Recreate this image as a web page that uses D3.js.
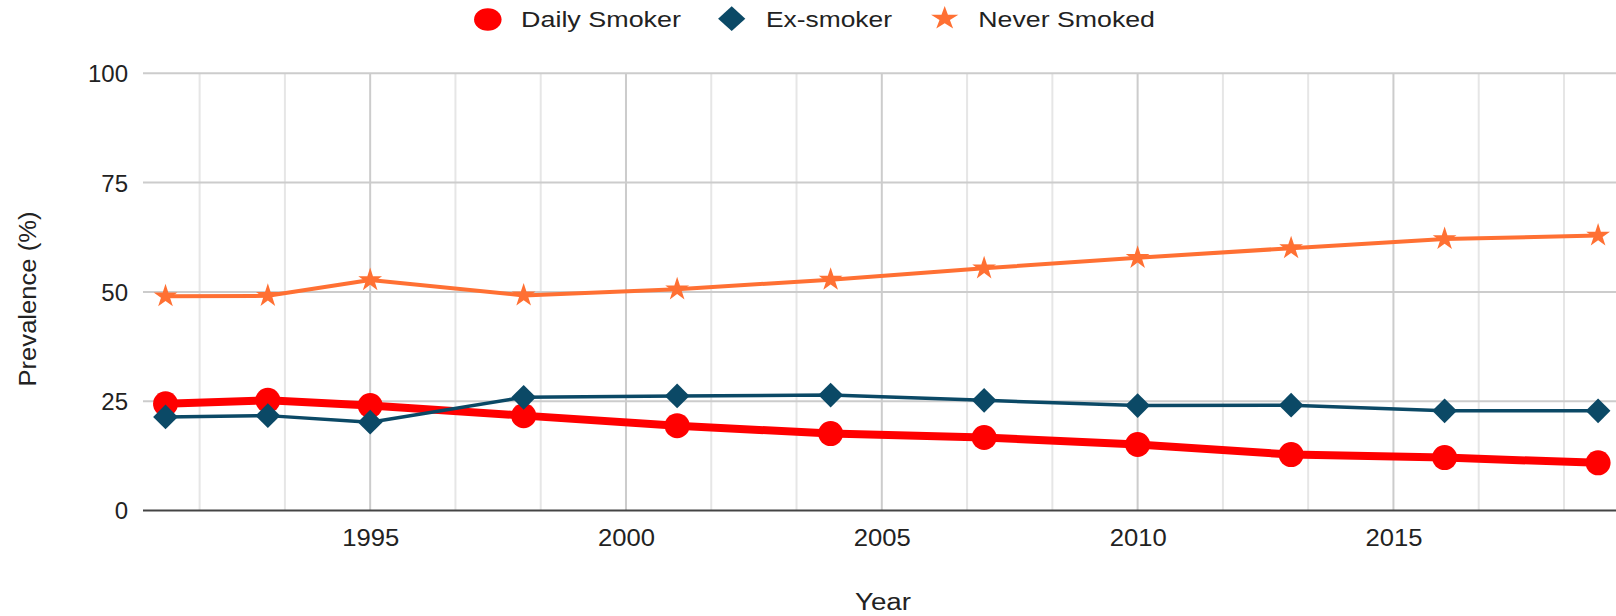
<!DOCTYPE html>
<html>
<head>
<meta charset="utf-8">
<script src="https://cdn.jsdelivr.net/npm/d3@7/dist/d3.min.js"></script>
<style>
  html, body { margin: 0; padding: 0; background: #ffffff; }
  svg { display: block; font-family: "Liberation Sans", Arial, sans-serif; }
</style>
</head>
<body>
<svg id="chart" width="1616" height="616"></svg>
<script>
// Survey years and prevalence (%) by smoking status
const years = [1991, 1993, 1995, 1998, 2001, 2004, 2007, 2010, 2013, 2016, 2019];
const dailySmoker = [24.4, 25.2, 24.0, 21.7, 19.4, 17.6, 16.7, 15.1, 12.8, 12.1, 10.9];
const exSmoker = [21.4, 21.7, 20.2, 25.9, 26.2, 26.4, 25.2, 24.0, 24.1, 22.8, 22.8];
const neverSmoked = [49.0, 49.1, 52.7, 49.2, 50.6, 52.8, 55.4, 57.8, 60.0, 62.1, 62.9];

const seriesNames = ["Daily Smoker", "Ex-smoker", "Never Smoked"];
const xTickValues = [1995, 2000, 2005, 2010, 2015];
const yTickValues = [0, 25, 50, 75, 100];

const svg = d3.select("#chart");
const plot = { left: 143, right: 1616, top: 73.3, bottom: 510.5 };

const x = d3.scaleLinear().domain([1990.56, 2019.35]).range([plot.left, plot.right]);
const y = d3.scaleLinear().domain([0, 100]).range([plot.bottom, plot.top]);

// minor vertical gridlines every 5/3 year between majors
const minorX = d3.range(1990, 2021, 5 / 3).filter(v => x(v) >= plot.left && x(v) <= plot.right && Math.abs(v % 5) > 0.01 && Math.abs(v % 5 - 5) > 0.01);
const majorX = d3.range(1990, 2021, 5).filter(v => x(v) >= plot.left && x(v) <= plot.right);

const grid = svg.append("g");
grid.selectAll("line.minor").data(minorX).join("line")
  .attr("class", "minor")
  .attr("x1", d => x(d)).attr("x2", d => x(d))
  .attr("y1", plot.top).attr("y2", plot.bottom)
  .attr("stroke", "#e6e6e6").attr("stroke-width", 2);
grid.selectAll("line.majorx").data(majorX).join("line")
  .attr("class", "majorx")
  .attr("x1", d => x(d)).attr("x2", d => x(d))
  .attr("y1", plot.top).attr("y2", plot.bottom)
  .attr("stroke", "#cccccc").attr("stroke-width", 2);
grid.selectAll("line.majory").data(yTickValues.filter(v => v > 0)).join("line")
  .attr("class", "majory")
  .attr("x1", plot.left).attr("x2", plot.right)
  .attr("y1", d => y(d)).attr("y2", d => y(d))
  .attr("stroke", "#cccccc").attr("stroke-width", 2);

// baseline at zero
svg.append("line")
  .attr("x1", plot.left).attr("x2", plot.right)
  .attr("y1", y(0)).attr("y2", y(0))
  .attr("stroke", "#444444").attr("stroke-width", 2.2);

// axes
const xAxis = svg.append("g")
  .attr("transform", `translate(0,${plot.bottom})`)
  .call(d3.axisBottom(x).tickValues(xTickValues).tickFormat(d3.format("d")).tickSize(0));
xAxis.select(".domain").remove();
xAxis.selectAll("text")
  .attr("y", 35.2).attr("dy", 0)
  .attr("font-size", 24).attr("fill", "#222222")
  .attr("textLength", 57).attr("lengthAdjust", "spacingAndGlyphs")
  .attr("font-family", "Liberation Sans, Arial, sans-serif");

const yAxis = svg.append("g")
  .attr("transform", `translate(${plot.left},0)`)
  .call(d3.axisLeft(y).tickValues(yTickValues).tickSize(0).tickPadding(15));
yAxis.select(".domain").remove();
yAxis.selectAll("text")
  .attr("font-size", 24).attr("fill", "#222222").attr("dy", "0.35em")
  .attr("font-family", "Liberation Sans, Arial, sans-serif");

// axis titles
svg.append("text")
  .attr("x", 883).attr("y", 610)
  .attr("text-anchor", "middle")
  .attr("font-size", 23).attr("fill", "#222222")
  .attr("textLength", 56).attr("lengthAdjust", "spacingAndGlyphs")
  .text("Year");
svg.append("text")
  .attr("transform", "translate(36,299) rotate(-90)")
  .attr("text-anchor", "middle")
  .attr("font-size", 23).attr("fill", "#222222")
  .attr("textLength", 175).attr("lengthAdjust", "spacingAndGlyphs")
  .text("Prevalence (%)");

// series
const series = [
  { name: seriesNames[0], values: dailySmoker, color: "#ff0000", width: 8,   symbol: d3.symbolCircle, size: Math.PI * 12.5 * 12.5, rotate: 0 },
  { name: seriesNames[1], values: exSmoker,    color: "#0b4966", width: 3.5, symbol: d3.symbolSquare, size: 17.5 * 17.5, rotate: 45 },
  { name: seriesNames[2], values: neverSmoked, color: "#ff7033", width: 4,   symbol: d3.symbolStar,   size: 175, rotate: 0 }
];

const line = d3.line().x(d => x(d[0])).y(d => y(d[1]));

series.forEach(s => {
  const pts = years.map((yr, i) => [yr, s.values[i]]);
  const g = svg.append("g");
  g.append("path")
    .datum(pts)
    .attr("d", line)
    .attr("fill", "none")
    .attr("stroke", s.color)
    .attr("stroke-width", s.width)
    .attr("stroke-linejoin", "round");
  g.selectAll("path.pt").data(pts).join("path")
    .attr("class", "pt")
    .attr("d", d3.symbol().type(s.symbol).size(s.size))
    .attr("transform", d => `translate(${x(d[0])},${y(d[1])}) rotate(${s.rotate})`)
    .attr("fill", s.color);
});

// legend
const legendItems = [
  { s: series[0], mx: 487.8, my: 19.5, sx: 1.1, sy: 0.9, tx: 521, tl: 160 },
  { s: series[1], mx: 731.7, my: 18.7, sx: 1.1, sy: 1.0, tx: 766, tl: 126 },
  { s: series[2], mx: 944.7, my: 18.5, sx: 1.15, sy: 1.0, tx: 978.3, tl: 176.7 }
];
const legend = svg.append("g");
legendItems.forEach(it => {
  legend.append("path")
    .attr("d", d3.symbol().type(it.s.symbol).size(it.s.size))
    .attr("transform", `translate(${it.mx},${it.my}) scale(${it.sx},${it.sy}) rotate(${it.s.rotate})`)
    .attr("fill", it.s.color);
  legend.append("text")
    .attr("x", it.tx).attr("y", 26.7)
    .attr("font-size", 22).attr("fill", "#222222")
    .attr("textLength", it.tl).attr("lengthAdjust", "spacingAndGlyphs")
    .text(it.s.name);
});
</script>
</body>
</html>
